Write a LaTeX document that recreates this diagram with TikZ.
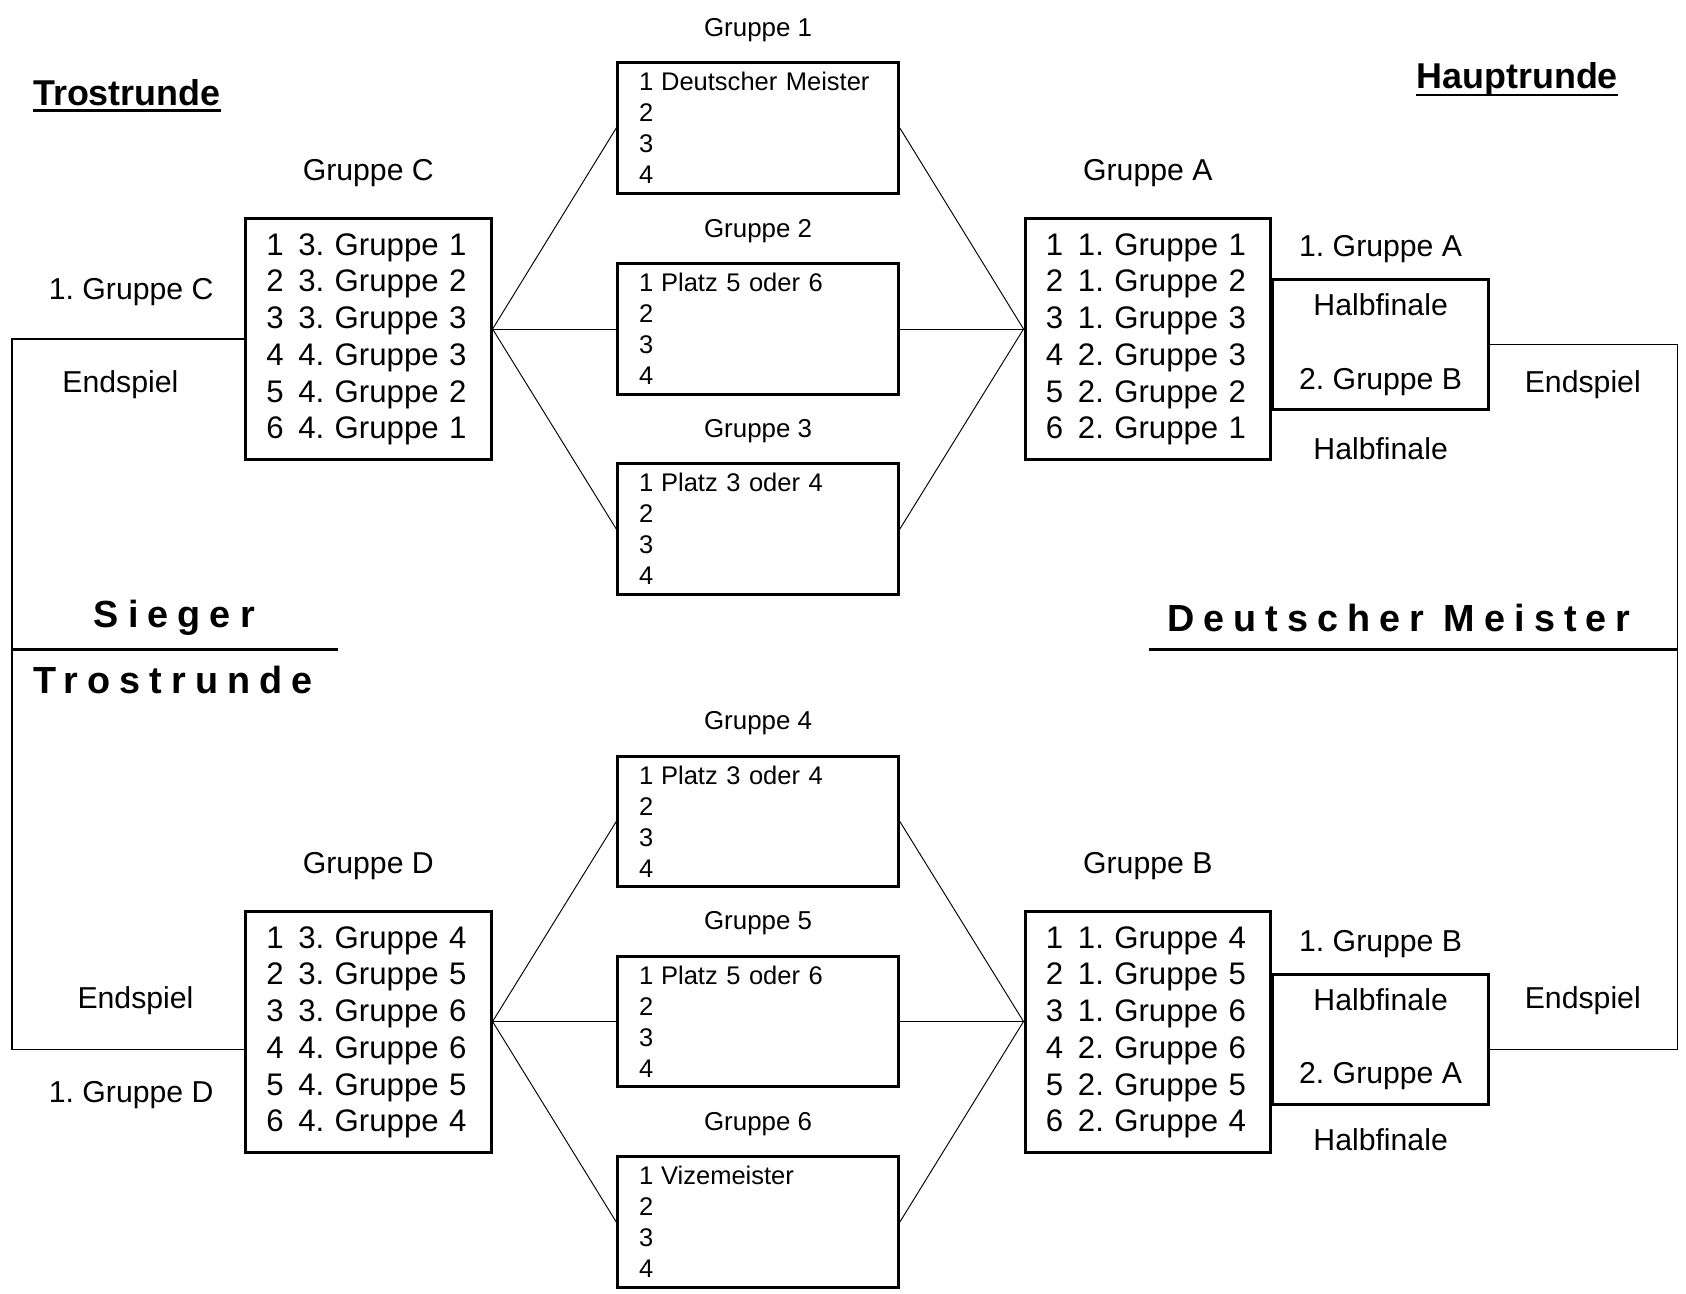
\documentclass[tikz,border=0pt]{standalone}
\usepackage{fontspec}
\setmainfont{Liberation Sans}
\newfontfamily\spaced[LetterSpace=24]{Liberation Sans}
\usetikzlibrary{positioning}
\tikzstyle{small}=[rectangle, draw, line width=1.6pt, minimum width=148.5pt, minimum height=69.2pt, text width=126pt, inner xsep=11pt, align=left, font=\fontsize{13.5}{16.4}\selectfont]
\tikzstyle{big}=[rectangle, draw, line width=1.6pt, minimum width=130pt, minimum height=127.5pt, text width=108pt, inner xsep=11pt, align=left, font=\fontsize{16.5}{19.45}\selectfont]
\tikzstyle{semi}=[rectangle, draw, line width=1.6pt, minimum width=114.5pt, minimum height=68.6pt, align=center, font=\fontsize{16}{39}\selectfont]
\tikzstyle{tag}=[inner sep=0pt, font=\fontsize{16}{19}\selectfont]
\tikzstyle{smalltag}=[inner sep=0pt, font=\fontsize{13.7}{16}\selectfont]
\tikzstyle{title}=[inner sep=0pt, font=\fontsize{19}{23}\selectfont\bfseries]
\tikzstyle{wide}=[inner sep=0pt, anchor=west, font=\fontsize{20}{24}\selectfont\spaced\bfseries]
\tikzstyle{link}=[line width=0.5pt]
\tikzstyle{frame}=[line width=0.8pt]
\tikzstyle{bar}=[line width=1.4pt]
\newcommand{\rang}[2]{\makebox[17pt][l]{#1}#2}
\newcommand{\rangs}[2]{\makebox[11.7pt][l]{#1}#2}

\begin{document}
\frenchspacing
\begin{tikzpicture}[x=0.02cm, y=-0.02cm, node distance=10pt]
    \fill[white] (0,0) rectangle (1568,1203);
    \useasboundingbox (0,0) rectangle (1568,1203);

    % Vorrunde
    \node[small] (g1) at (705,119)   {\rangs{1}{Deutscher Meister}\\2\\3\\4};
    \node[small] (g2) at (705,306)   {\rangs{1}{Platz 5 oder 6}\\2\\3\\4};
    \node[small] (g3) at (705,492)   {\rangs{1}{Platz 3 oder 4}\\2\\3\\4};
    \node[small] (g4) at (705,764)   {\rangs{1}{Platz 3 oder 4}\\2\\3\\4};
    \node[small] (g5) at (705,950)   {\rangs{1}{Platz 5 oder 6}\\2\\3\\4};
    \node[small] (g6) at (705,1136.5) {\rangs{1}{Vizemeister}\\2\\3\\4};
    \node[smalltag] (l1) [above=of g1] {Gruppe 1};
    \node[smalltag] (l2) [above=of g2] {Gruppe 2};
    \node[smalltag] (l3) [above=of g3] {Gruppe 3};
    \node[smalltag] (l4) [above=of g4] {Gruppe 4};
    \node[smalltag] (l5) [above=of g5] {Gruppe 5};
    \node[smalltag] (l6) [above=of g6] {Gruppe 6};

    % Zwischenrunde
    \node[big] (gC) at (342.5,315.5) {\rang{1}{3. Gruppe 1}\\\rang{2}{3. Gruppe 2}\\\rang{3}{3. Gruppe 3}\\
                                      \rang{4}{4. Gruppe 3}\\\rang{5}{4. Gruppe 2}\\\rang{6}{4. Gruppe 1}};
    \node[big] (gD) at (342.5,960)   {\rang{1}{3. Gruppe 4}\\\rang{2}{3. Gruppe 5}\\\rang{3}{3. Gruppe 6}\\
                                      \rang{4}{4. Gruppe 6}\\\rang{5}{4. Gruppe 5}\\\rang{6}{4. Gruppe 4}};
    \node[big] (gA) at (1067.5,315.5) {\rang{1}{1. Gruppe 1}\\\rang{2}{1. Gruppe 2}\\\rang{3}{1. Gruppe 3}\\
                                       \rang{4}{2. Gruppe 3}\\\rang{5}{2. Gruppe 2}\\\rang{6}{2. Gruppe 1}};
    \node[big] (gB) at (1067.5,960)   {\rang{1}{1. Gruppe 4}\\\rang{2}{1. Gruppe 5}\\\rang{3}{1. Gruppe 6}\\
                                       \rang{4}{2. Gruppe 6}\\\rang{5}{2. Gruppe 5}\\\rang{6}{2. Gruppe 4}};
    \node[tag] (lC) [above=16pt of gC] {Gruppe C};
    \node[tag] (lD) [above=16pt of gD] {Gruppe D};
    \node[tag] (lA) [above=16pt of gA] {Gruppe A};
    \node[tag] (lB) [above=16pt of gB] {Gruppe B};

    % Halbfinale
    \node[semi] (h1) at (1284,320.5) {Halbfinale\\2. Gruppe B};
    \node[semi] (h2) at (1284,966.5) {Halbfinale\\2. Gruppe A};
    \node[tag] (h1o) [above=8pt of h1] {1. Gruppe A};
    \node[tag] (h1u) [below=14pt of h1] {Halbfinale};
    \node[tag] (h2o) [above=8pt of h2] {1. Gruppe B};
    \node[tag] (h2u) [below=12pt of h2] {Halbfinale};

    % Endspiele
    \node[tag] (eC) at (122,272)  {1. Gruppe C};
    \node[tag] (e1) at (112,358)  {Endspiel};
    \node[tag] (e2) at (126,931)  {Endspiel};
    \node[tag] (eD) at (122,1018) {1. Gruppe D};
    \node[tag] (e3) at (1472,358) {Endspiel};
    \node[tag] (e4) at (1472,931) {Endspiel};

    % Titel
    \node[title] (tr) at (118,86.5) {Trostrunde};
    \node[title] (hr) at (1411,74)  {Hauptrunde};
    \draw[bar] ([yshift=-2.5pt]tr.base west) -- ([yshift=-2.5pt]tr.base east);
    \draw[bar] ([yshift=-3.2pt]hr.base west) -- ([yshift=-3.2pt]hr.base east);
    \node[wide] (sieg) at (87,575)  {Sieger};
    \node[wide] (trost) at (31,632) {Trostrunde};
    \node[wide] (dm) at (1085,575)  {Deutscher Meister};

    \coordinate (fl) at (11,976);
    \coordinate (fr) at (1560,976);
    \coordinate (sg) at (314,604);
    \coordinate (dg) at (1069,604);

    % Verbindungen
    \draw[link] (gC.east |- g2.west) -- (g1.west);
    \draw[link] (gC.east |- g2.west) -- (g2.west);
    \draw[link] (gC.east |- g2.west) -- (g3.west);
    \draw[link] (gA.west |- g2.east) -- (g1.east);
    \draw[link] (gA.west |- g2.east) -- (g2.east);
    \draw[link] (gA.west |- g2.east) -- (g3.east);
    \draw[link] (gD.east |- g5.west) -- (g4.west);
    \draw[link] (gD.east |- g5.west) -- (g5.west);
    \draw[link] (gD.east |- g5.west) -- (g6.west);
    \draw[link] (gB.west |- g5.east) -- (g4.east);
    \draw[link] (gB.west |- g5.east) -- (g5.east);
    \draw[link] (gB.west |- g5.east) -- (g6.east);

    \draw[frame] (gC.west) -| (fl) -- (gD.west |- fl);
    \draw[frame] (h1.east) -| (fr) -- (h2.east |- fr);
    \draw[bar] (fl |- sg) -- (sg);
    \draw[bar] (dg) -- (fr |- dg);
\end{tikzpicture}
\end{document}
